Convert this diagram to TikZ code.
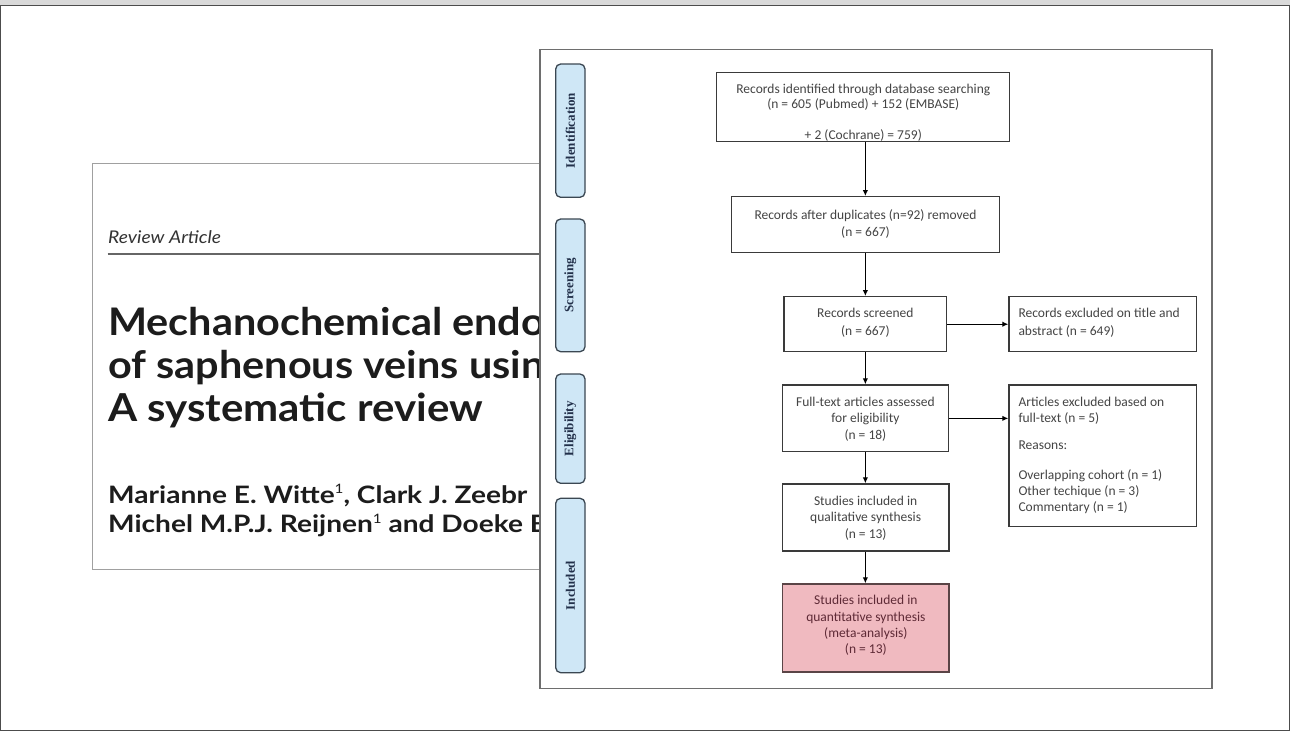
\documentclass[tikz,border=0pt]{standalone}
\usepackage{fontspec}
\setmainfont{Carlito}
\newfontfamily\rafont[FakeStretch=1.1]{Lato}
\newfontfamily\titlefont[FakeStretch=1.09]{Lato}
\newfontfamily\authfont[FakeStretch=1.17]{Lato}
\newfontfamily\labfont{Liberation Serif}
\newcommand{\affsup}[1]{\raisebox{9.5pt}{\fontsize{13}{13}\selectfont\mdseries #1}}
\usetikzlibrary{arrows.meta}
\definecolor{boxline}{HTML}{3A3A3A}
\definecolor{boxtext}{HTML}{444444}
\definecolor{pinkfill}{HTML}{F0BAC0}
\definecolor{pinktext}{HTML}{5E2A36}
\definecolor{pinkline}{HTML}{5A4446}
\definecolor{labfill}{HTML}{CFE7F6}
\definecolor{labline}{HTML}{3B4752}
\definecolor{labtext}{HTML}{22304A}
\definecolor{frameline}{HTML}{6E6E6E}
\definecolor{cardline}{HTML}{A0A0A0}
\definecolor{cardtext}{HTML}{1C1C1C}
\tikzset{
  fbox/.style={draw=boxline, line width=1.4pt, fill=white, inner sep=0pt},
  pinkbox/.style={draw=pinkline, line width=1.4pt, fill=pinkfill, inner sep=0pt},
  btext/.style={inner sep=0pt, align=center, text=boxtext},
  ltext/.style={inner sep=0pt, align=left, text=boxtext, anchor=west},
  lab/.style={draw=labline, line width=1.3pt, fill=labfill, rounded corners=5pt,
    rotate=90, minimum height=29.3pt, inner sep=0pt, text=labtext,
    font=\labfont\bfseries\fontsize{13}{15}\selectfont},
  arr/.style={draw=black, line width=1.3pt, -{Latex[length=6pt,width=5.5pt]}},
  cardtxt/.style={anchor=base west, inner sep=0pt, text=cardtext}
}
\begin{document}
\begin{tikzpicture}[x=1pt,y=-1pt]
\useasboundingbox (0,0) rectangle (1290,731);
\fill[white] (0,0) rectangle (1290,731);
\fill[gray!30] (0,0) rectangle (1290,5);
\draw[gray!60!black, line width=1pt] (0.5,5.5) -- (1289.5,5.5) -- (1289.5,730) -- (0.5,730) -- cycle;

% article card
\draw[cardline, line width=0.9pt, fill=white] (92.3,163.3) rectangle (580,569.3);
\node[cardtxt, font=\rafont\itshape\fontsize{17.5}{20}\selectfont, text=black!80] (ra) at (108,243) {Review Article};
\draw[black!60, line width=1.3pt] (107.5,254) -- (580,254);
\node[cardtxt, font=\titlefont\bfseries\fontsize{38}{43}\selectfont] (ti1) at (108,335) {Mechanochemical endo};
\node[cardtxt, font=\titlefont\bfseries\fontsize{38}{43}\selectfont] (ti2) at (108,378.5) {of saphenous veins usin};
\node[cardtxt, font=\titlefont\bfseries\fontsize{38.5}{43}\selectfont] (ti3) at (108,421.7) {A systematic review};
\node[cardtxt, font=\authfont\bfseries\fontsize{24}{30}\selectfont] (au1) at (108,503) {Marianne E. Witte\affsup{1}, Clark J. Zeebr};
\node[cardtxt, font=\authfont\bfseries\fontsize{24}{30}\selectfont] (au2) at (108,532.7) {Michel M.P.J. Reijnen\affsup{1} and Doeke B};

% flowchart frame
\draw[frameline, line width=1.6pt, fill=white] (540,49.3) rectangle (1211.7,688.3);

% stage labels
\node[lab, minimum width=133.3pt] (l1) at (570.35,130.65) {Identification};
\node[lab, minimum width=132.7pt] (l2) at (570.35,285.35) {Screening};
\node[lab, minimum width=109.3pt] (l3) at (570.35,428.65) {Eligibility};
\node[lab, minimum width=174.4pt] (l4) at (570.35,585.5) {Included};

% boxes
\node[fbox, minimum width=292.6pt, minimum height=69.4pt] (b1) at (863,107) {};
\node[fbox, minimum width=268pt, minimum height=56pt] (b2) at (865.5,224.7) {};
\node[fbox, minimum width=162.7pt, minimum height=55pt] (b3) at (865.35,324.2) {};
\node[fbox, minimum width=187.7pt, minimum height=55pt] (b4) at (1102.85,324.2) {};
\node[fbox, minimum width=166.2pt, minimum height=66.7pt] (b5) at (865.4,418.35) {};
\node[fbox, minimum width=187.7pt, minimum height=141.3pt] (b6) at (1102.85,455.65) {};
\node[fbox, minimum width=166.7pt, minimum height=67pt] (b7) at (865.65,517.5) {};
\node[pinkbox, minimum width=166.3pt, minimum height=88pt] (b8) at (865.85,628) {};

% box texts
\node[btext, font=\fontsize{13.5}{15.5}\selectfont] (t1) at (863.3,112.7) {Records identified through database searching\\(n = 605 (Pubmed) + 152 (EMBASE)\\[15.8pt]+ 2 (Cochrane) = 759)};
\node[btext, font=\fontsize{13.5}{17.7}\selectfont] (t2) at (865.5,224) {Records after duplicates (n=92) removed\\(n = 667)};
\node[btext, font=\fontsize{13.5}{18.3}\selectfont] (t3) at (865.35,322.5) {Records screened\\(n = 667)};
\node[ltext, font=\fontsize{13.5}{18.3}\selectfont] (t4) at (1018.3,322.5) {Records excluded on title and\\abstract (n = 649)};
\node[btext, font=\fontsize{13.5}{16.5}\selectfont] (t5) at (865.4,419.2) {Full-text articles assessed\\for eligibility\\(n = 18)};
\node[ltext, font=\fontsize{13.5}{16.3}\selectfont] (t6) at (1018.3,455.5) {Articles excluded based on\\full-text (n = 5)\\[11pt]Reasons:\\[13pt]Overlapping cohort (n = 1)\\Other techique (n = 3)\\Commentary (n = 1)};
\node[btext, font=\fontsize{13.5}{16.3}\selectfont] (t7) at (865.65,518) {Studies included in\\qualitative synthesis\\(n = 13)};
\node[btext, font=\fontsize{13.5}{16.3}\selectfont, text=pinktext] (t8) at (865.85,625.5) {Studies included in\\quantitative synthesis\\(meta-analysis)\\(n = 13)};

% connectors
\draw[arr] (b1.south -| b3.center) -- (b2.north -| b3.center);
\draw[arr] (b2.south -| b3.center) -- (b3.north);
\draw[arr] (b3.east) -- (b4.west);
\draw[arr] (b3.south) -- (b5.north -| b3.center);
\draw[arr] (b5.east) -- (b6.west |- b5.east);
\draw[arr] (b5.south -| b3.center) -- (b7.north -| b3.center);
\draw[arr] (b7.south -| b3.center) -- (b8.north -| b3.center);
\end{tikzpicture}
\end{document}
